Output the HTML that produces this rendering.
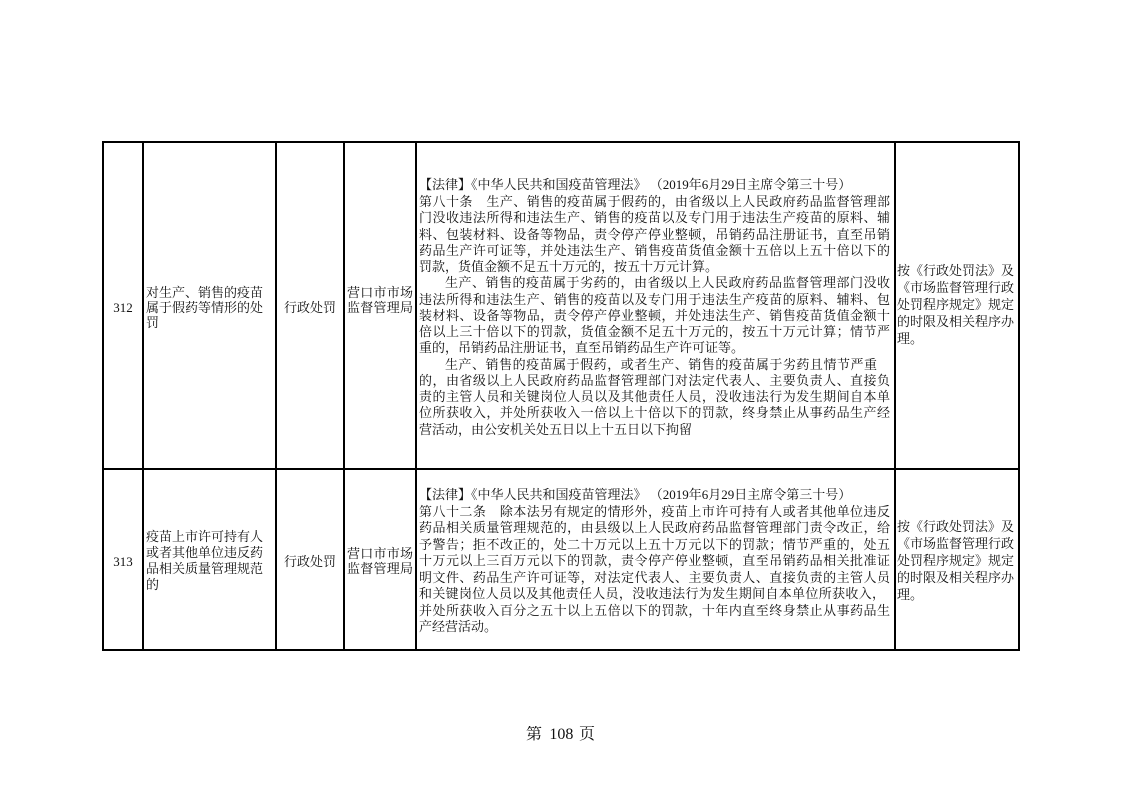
<!DOCTYPE html>
<html><head><meta charset="utf-8"><style>
html,body{margin:0;padding:0;background:#fff;}
body{width:1122px;height:793px;position:relative;overflow:hidden;font-family:"Liberation Serif","Noto Serif CJK SC",serif;color:#111;font-size:13px;}
.b{position:absolute;background:#000;}
.l{position:absolute;height:16px;line-height:16px;white-space:nowrap;}
.j{text-align:justify;text-align-last:justify;white-space:normal;overflow:hidden;}
.c{text-align:center;}
</style></head><body>
<div class="b" style="left:102px;top:141px;width:918px;height:2px"></div>
<div class="b" style="left:102px;top:468px;width:918px;height:2px"></div>
<div class="b" style="left:102px;top:649px;width:918px;height:2px"></div>
<div class="b" style="left:102px;top:141px;width:2px;height:510px"></div>
<div class="b" style="left:142px;top:141px;width:2px;height:510px"></div>
<div class="b" style="left:275px;top:141px;width:2px;height:510px"></div>
<div class="b" style="left:343px;top:141px;width:2px;height:510px"></div>
<div class="b" style="left:415px;top:141px;width:2px;height:510px"></div>
<div class="b" style="left:894px;top:141px;width:2px;height:510px"></div>
<div class="b" style="left:1018px;top:141px;width:2px;height:510px"></div>

<div class="l c" style="left:104px;width:38px;top:300px">312</div>
<div class="l j" style="left:146px;width:117px;top:285px">对生产、销售的疫苗</div>
<div class="l j" style="left:146px;width:117px;top:300px">属于假药等情形的处</div>
<div class="l" style="left:146px;top:315px">罚</div>
<div class="l c" style="left:277px;width:66px;top:300px">行政处罚</div>
<div class="l j" style="left:347px;width:66px;top:285px">营口市市场</div>
<div class="l j" style="left:347px;width:66px;top:300px">监督管理局</div>
<div class="l j" style="left:897px;width:117px;top:263px">按《行政处罚法》及</div>
<div class="l j" style="left:897px;width:117px;top:280px">《市场监督管理行政</div>
<div class="l j" style="left:897px;width:117px;top:297px">处罚程序规定》规定</div>
<div class="l j" style="left:897px;width:117px;top:314px">的时限及相关程序办</div>
<div class="l" style="left:897px;top:331px">理。</div>

<div class="l j" style="left:419px;width:429px;top:177px">【法律】《中华人民共和国疫苗管理法》 （2019年6月29日主席令第三十号）</div>
<div class="l j" style="left:419px;width:471px;top:194px">第八十条　生产、销售的疫苗属于假药的，由省级以上人民政府药品监督管理部</div>
<div class="l j" style="left:419px;width:471px;top:210px">门没收违法所得和违法生产、销售的疫苗以及专门用于违法生产疫苗的原料、辅</div>
<div class="l j" style="left:419px;width:471px;top:227px">料、包装材料、设备等物品，责令停产停业整顿，吊销药品注册证书，直至吊销</div>
<div class="l j" style="left:419px;width:471px;top:243px">药品生产许可证等，并处违法生产、销售疫苗货值金额十五倍以上五十倍以下的</div>
<div class="l" style="left:419px;top:259px">罚款，货值金额不足五十万元的，按五十万元计算。</div>
<div class="l j" style="left:445px;width:445px;top:275px">生产、销售的疫苗属于劣药的，由省级以上人民政府药品监督管理部门没收</div>
<div class="l j" style="left:419px;width:471px;top:292px">违法所得和违法生产、销售的疫苗以及专门用于违法生产疫苗的原料、辅料、包</div>
<div class="l j" style="left:419px;width:471px;top:308px">装材料、设备等物品，责令停产停业整顿，并处违法生产、销售疫苗货值金额十</div>
<div class="l j" style="left:419px;width:471px;top:324px">倍以上三十倍以下的罚款，货值金额不足五十万元的，按五十万元计算；情节严</div>
<div class="l" style="left:419px;top:340px">重的，吊销药品注册证书，直至吊销药品生产许可证等。</div>
<div class="l j" style="left:445px;width:432px;top:357px">生产、销售的疫苗属于假药，或者生产、销售的疫苗属于劣药且情节严重</div>
<div class="l j" style="left:419px;width:471px;top:373px">的，由省级以上人民政府药品监督管理部门对法定代表人、主要负责人、直接负</div>
<div class="l j" style="left:419px;width:471px;top:389px">责的主管人员和关键岗位人员以及其他责任人员，没收违法行为发生期间自本单</div>
<div class="l j" style="left:419px;width:471px;top:405px">位所获收入，并处所获收入一倍以上十倍以下的罚款，终身禁止从事药品生产经</div>
<div class="l" style="left:419px;top:422px">营活动，由公安机关处五日以上十五日以下拘留</div>

<div class="l c" style="left:104px;width:38px;top:554px">313</div>
<div class="l j" style="left:146px;width:117px;top:529px">疫苗上市许可持有人</div>
<div class="l j" style="left:146px;width:117px;top:545px">或者其他单位违反药</div>
<div class="l j" style="left:146px;width:117px;top:561px">品相关质量管理规范</div>
<div class="l" style="left:146px;top:577px">的</div>
<div class="l c" style="left:277px;width:66px;top:554px">行政处罚</div>
<div class="l j" style="left:347px;width:66px;top:546px">营口市市场</div>
<div class="l j" style="left:347px;width:66px;top:561px">监督管理局</div>
<div class="l j" style="left:897px;width:117px;top:519px">按《行政处罚法》及</div>
<div class="l j" style="left:897px;width:117px;top:536px">《市场监督管理行政</div>
<div class="l j" style="left:897px;width:117px;top:553px">处罚程序规定》规定</div>
<div class="l j" style="left:897px;width:117px;top:570px">的时限及相关程序办</div>
<div class="l" style="left:897px;top:587px">理。</div>

<div class="l j" style="left:419px;width:429px;top:487px">【法律】《中华人民共和国疫苗管理法》 （2019年6月29日主席令第三十号）</div>
<div class="l j" style="left:419px;width:471px;top:504px">第八十二条　除本法另有规定的情形外，疫苗上市许可持有人或者其他单位违反</div>
<div class="l j" style="left:419px;width:471px;top:520px">药品相关质量管理规范的，由县级以上人民政府药品监督管理部门责令改正，给</div>
<div class="l j" style="left:419px;width:471px;top:537px">予警告；拒不改正的，处二十万元以上五十万元以下的罚款；情节严重的，处五</div>
<div class="l j" style="left:419px;width:471px;top:553px">十万元以上三百万元以下的罚款，责令停产停业整顿，直至吊销药品相关批准证</div>
<div class="l j" style="left:419px;width:471px;top:570px">明文件、药品生产许可证等，对法定代表人、主要负责人、直接负责的主管人员</div>
<div class="l j" style="left:419px;width:466px;top:586px">和关键岗位人员以及其他责任人员，没收违法行为发生期间自本单位所获收入，</div>
<div class="l j" style="left:419px;width:471px;top:603px">并处所获收入百分之五十以上五倍以下的罚款，十年内直至终身禁止从事药品生</div>
<div class="l" style="left:419px;top:619px">产经营活动。</div>

<div class="l j" style="left:526px;width:69px;top:726px;font-size:16px;height:18px;line-height:18px">第 108 页</div>
</body></html>
